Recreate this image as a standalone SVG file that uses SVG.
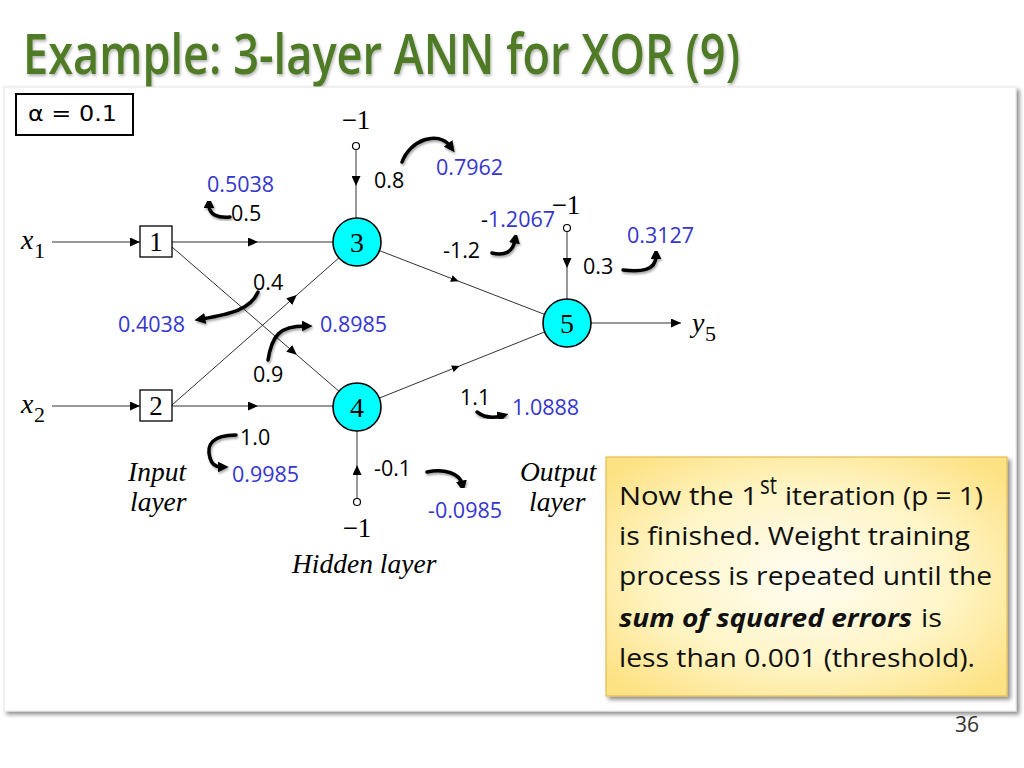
<svg xmlns="http://www.w3.org/2000/svg" width="1024" height="768" viewBox="0 0 1024 768">
<defs>
<style>
.lbl{font-family:"Open Sans","DejaVu Sans",sans-serif;font-size:21.5px;fill:#000}
.blue{fill:#3535d0}
.ser{font-family:"Liberation Serif","Times New Roman",serif;fill:#000}
.it{font-style:italic}
.ln{stroke:#333;stroke-width:1;fill:none}
.cv{stroke:#000;stroke-width:3.5;fill:none;stroke-linecap:round;filter:url(#sh)}
.node{fill:#00ffff;stroke:#000;stroke-width:1.6}
.box{fill:#fff;stroke:#000;stroke-width:1.3}
.call{font-family:"Open Sans","DejaVu Sans",sans-serif;font-size:25.5px;fill:#111}
</style>
<marker id="ah" viewBox="0 0 10 9" refX="10" refY="4.5" markerWidth="10" markerHeight="9" markerUnits="userSpaceOnUse" orient="auto"><path d="M0,0 L10,4.5 L0,9 z" fill="#000"/></marker>
<marker id="ahs" viewBox="0 0 10 9" refX="5" refY="4.5" markerWidth="8" markerHeight="7" markerUnits="userSpaceOnUse" orient="auto"><path d="M0,0 L10,4.5 L0,9 z" fill="#000"/></marker>
<marker id="ahm" viewBox="0 0 10 9" refX="5" refY="4.5" markerWidth="10" markerHeight="9" markerUnits="userSpaceOnUse" orient="auto"><path d="M0,0 L10,4.5 L0,9 z" fill="#000"/></marker>
<marker id="ca" viewBox="0 0 10 10" refX="3" refY="5" markerWidth="11" markerHeight="11" markerUnits="userSpaceOnUse" orient="auto"><path d="M0,0 L10,5 L0,10 z" fill="#000"/></marker>
<filter id="sh" x="-30%" y="-30%" width="160%" height="160%"><feDropShadow dx="1" dy="2" stdDeviation="1.2" flood-color="#000" flood-opacity="0.35"/></filter>
<filter id="psh" x="-5%" y="-5%" width="110%" height="110%"><feDropShadow dx="3" dy="3" stdDeviation="2" flood-color="#000" flood-opacity="0.45"/></filter>
<filter id="tsh" x="-5%" y="-20%" width="110%" height="140%"><feDropShadow dx="1" dy="2" stdDeviation="1.5" flood-color="#000" flood-opacity="0.3"/></filter>
<radialGradient id="yg" cx="50%" cy="50%" r="65%"><stop offset="0" stop-color="#fffdf2"/><stop offset="0.55" stop-color="#fff5c8"/><stop offset="1" stop-color="#fde283"/></radialGradient>
</defs>
<rect width="1024" height="768" fill="#fff"/>
<text x="23" y="74" font-family="'Open Sans','DejaVu Sans',sans-serif" font-size="56" font-weight="600" fill="#4f7a28" textLength="717" lengthAdjust="spacingAndGlyphs" filter="url(#tsh)">Example: 3-layer ANN for XOR (9)</text>
<rect id="panel" x="4" y="87" width="1012" height="624" fill="#fff" stroke="#e4e4e4" stroke-width="1" filter="url(#psh)"/>
<g id="alpha"><rect x="16" y="94" width="117" height="41" fill="#fff" stroke="#000" stroke-width="2"/><text x="28" y="121" font-family="'DejaVu Sans',sans-serif" font-size="22" textLength="89" lengthAdjust="spacingAndGlyphs">α = 0.1</text></g>
<g id="connectors">
<line class="ln" x1="52" y1="242" x2="140" y2="242" marker-end="url(#ah)"/>
<line class="ln" x1="52" y1="406" x2="140" y2="406" marker-end="url(#ah)"/>
<polyline class="ln" points="172,242 253,242 333,242" marker-mid="url(#ahm)"/>
<polyline class="ln" points="172,406 253,406 333,406" marker-mid="url(#ahm)"/>
<polyline class="ln" points="172,247 293,351.6 339,391.3" marker-mid="url(#ahm)"/>
<polyline class="ln" points="172,405 293,298.4 339,257.8" marker-mid="url(#ahm)"/>
<polyline class="ln" points="379.4,250.6 455,279.8 544.6,314.4" marker-mid="url(#ahs)"/>
<polyline class="ln" points="379.3,398.1 456,367.4 544.7,331.9" marker-mid="url(#ahs)"/>
<line class="ln" x1="591" y1="323" x2="681" y2="323" marker-end="url(#ah)"/>
<polyline class="ln" points="356,149.5 356,181 356,218" marker-mid="url(#ahm)"/>
<polyline class="ln" points="567,231.5 567,263 567,299" marker-mid="url(#ahm)"/>
<polyline class="ln" points="357,498.5 357,470 357,431" marker-mid="url(#ahm)"/>
</g>
<g id="bias3"><circle cx="356" cy="146" r="3.5" fill="#fff" stroke="#000" stroke-width="1.2"/><text class="ser" x="356" y="129" font-size="27" text-anchor="middle">−1</text></g>
<g id="bias5"><circle cx="567" cy="228" r="3.5" fill="#fff" stroke="#000" stroke-width="1.2"/><text class="ser" x="566" y="214" font-size="27" text-anchor="middle">−1</text></g>
<g id="bias4"><circle cx="357" cy="502" r="3.5" fill="#fff" stroke="#000" stroke-width="1.2"/><text class="ser" x="357" y="537" font-size="27" text-anchor="middle">−1</text></g>
<g id="in1"><rect class="box" x="140" y="226" width="32" height="31"/><text class="ser" x="156" y="251" font-size="27" text-anchor="middle">1</text></g>
<g id="in2"><rect class="box" x="140" y="390" width="32" height="31"/><text class="ser" x="156" y="415" font-size="27" text-anchor="middle">2</text></g>
<g id="n3"><circle class="node" cx="357" cy="242" r="24"/><text class="ser" x="357" y="252" font-size="28" text-anchor="middle">3</text></g>
<g id="n4"><circle class="node" cx="357" cy="407" r="24"/><text class="ser" x="357" y="417" font-size="28" text-anchor="middle">4</text></g>
<g id="n5"><circle class="node" cx="567" cy="323" r="24"/><text class="ser" x="567" y="333" font-size="28" text-anchor="middle">5</text></g>
<g id="x1"><text class="ser it" x="21" y="249" font-size="28">x</text><text class="ser" x="34" y="258" font-size="22">1</text></g>
<g id="x2"><text class="ser it" x="21" y="413" font-size="28">x</text><text class="ser" x="34" y="422" font-size="22">2</text></g>
<g id="y5"><text class="ser it" x="692" y="332" font-size="28">y</text><text class="ser" x="705" y="341" font-size="22">5</text></g>
<g id="layers" class="ser it" font-size="27.5">
<text x="128" y="481">Input</text><text x="130" y="511">layer</text>
<text x="292" y="573">Hidden layer</text>
<text x="520" y="481">Output</text><text x="529" y="511">layer</text>
</g>
<g id="weights" class="lbl">
<text class="lbl blue" x="207" y="192">0.5038</text>
<text x="231" y="221">0.5</text>
<text x="374" y="188">0.8</text>
<text class="lbl blue" x="436" y="175">0.7962</text>
<text x="481" y="227">-<tspan class="blue">1.2067</tspan></text>
<text x="443" y="258">-1.2</text>
<text class="lbl blue" x="627" y="243">0.3127</text>
<text x="583" y="274">0.3</text>
<text x="253" y="290">0.4</text>
<text class="lbl blue" x="118" y="332">0.4038</text>
<text class="lbl blue" x="320" y="332">0.8985</text>
<text x="253" y="382">0.9</text>
<text x="460" y="405">1.1</text>
<text class="lbl blue" x="512" y="415">1.0888</text>
<text x="240" y="445">1.0</text>
<text class="lbl blue" x="232" y="482">0.9985</text>
<text x="374" y="476">-0.1</text>
<text class="lbl blue" x="428" y="518">-0.0985</text>
</g>
<g id="updates">
<path class="cv" d="M230 217 C 218 218, 209 215, 209 205" marker-end="url(#ca)"/>
<path class="cv" d="M402 162 C 410 140, 438 130, 450 146" marker-end="url(#ca)"/>
<path class="cv" d="M492 253 C 505 256, 513 252, 515 240" marker-end="url(#ca)"/>
<path class="cv" d="M623 270 C 640 272, 656 271, 656 256" marker-end="url(#ca)"/>
<path class="cv" d="M258 292 C 250 310, 230 314, 202 319" marker-end="url(#ca)"/>
<path class="cv" d="M268 360 C 272 335, 280 326, 305 326" marker-end="url(#ca)"/>
<path class="cv" d="M236 435 C 212 435, 206 445, 210 458 C 212 465, 216 467, 221 467" marker-end="url(#ca)"/>
<path class="cv" d="M427 472 C 445 468, 460 474, 462 484" marker-end="url(#ca)"/>
<path class="cv" d="M477 412 C 485 418, 494 418, 501 416" marker-end="url(#ca)"/>
</g>
<g id="callout">
<rect x="606" y="457" width="401" height="239" fill="url(#yg)" stroke="#e3bf55" stroke-width="1.2" filter="url(#psh)"/>
<text class="call" x="619" y="505" textLength="139" lengthAdjust="spacingAndGlyphs">Now the 1</text>
<text class="call" x="760" y="494" font-size="14" textLength="17" lengthAdjust="spacingAndGlyphs">st</text>
<text class="call" x="785" y="505" textLength="198" lengthAdjust="spacingAndGlyphs">iteration (p = 1)</text>
<text class="call" x="619" y="545" textLength="351" lengthAdjust="spacingAndGlyphs">is finished. Weight training</text>
<text class="call" x="619" y="585" textLength="373" lengthAdjust="spacingAndGlyphs">process is repeated until the</text>
<text class="call" x="619" y="627" font-weight="bold" font-style="italic" textLength="293" lengthAdjust="spacingAndGlyphs">sum of squared errors</text>
<text class="call" x="921" y="627" textLength="21" lengthAdjust="spacingAndGlyphs">is</text>
<text class="call" x="619" y="667" textLength="356" lengthAdjust="spacingAndGlyphs">less than 0.001 (threshold).</text>
</g>
<text x="955" y="732" font-family="'Open Sans',sans-serif" font-size="21" fill="#333">36</text>
</svg>
